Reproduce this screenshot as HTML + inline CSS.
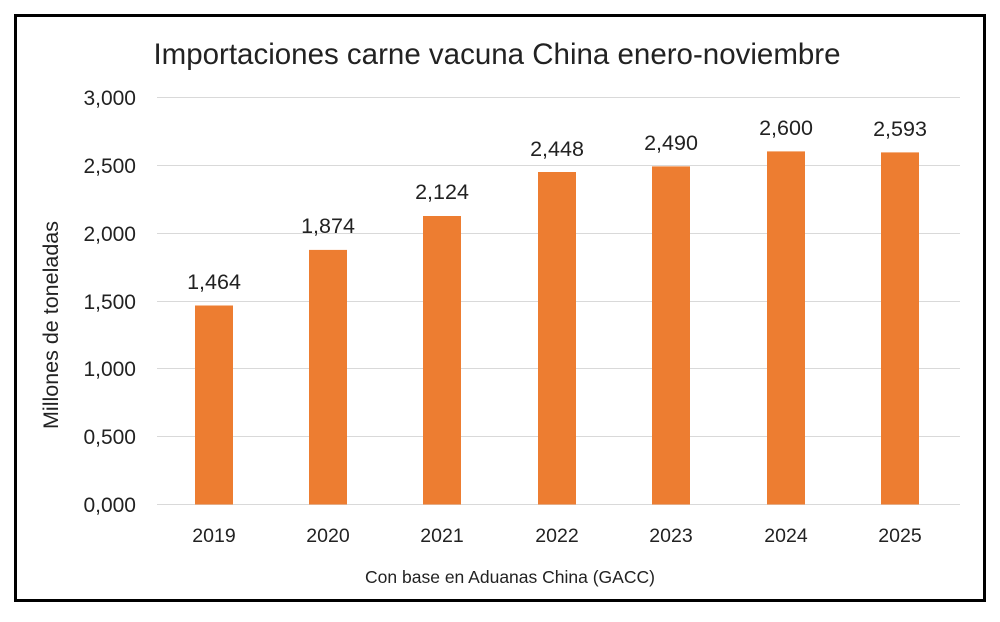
<!DOCTYPE html>
<html><head><meta charset="utf-8"><style>
body{margin:0;background:#fff}
</style></head><body>
<svg width="1000" height="617" xmlns="http://www.w3.org/2000/svg" font-family="'Liberation Sans', sans-serif">
<rect width="1000" height="617" fill="#fff"/>
<rect x="15.5" y="15.5" width="969" height="585" fill="none" stroke="#000" stroke-width="3"/>
<text x="497" y="64" font-size="29.5" text-anchor="middle" fill="#222">Importaciones carne vacuna China enero-noviembre</text>
<g stroke="#d9d9d9" stroke-width="1">
<line x1="157" x2="960" y1="97.5" y2="97.5"/>
<line x1="157" x2="960" y1="165.5" y2="165.5"/>
<line x1="157" x2="960" y1="233.5" y2="233.5"/>
<line x1="157" x2="960" y1="301.5" y2="301.5"/>
<line x1="157" x2="960" y1="368.5" y2="368.5"/>
<line x1="157" x2="960" y1="436.5" y2="436.5"/>
<line x1="157" x2="960" y1="504.5" y2="504.5"/>
</g>
<g font-size="21" text-anchor="end" fill="#222">
<text x="136" y="105">3,000</text>
<text x="136" y="173">2,500</text>
<text x="136" y="241">2,000</text>
<text x="136" y="309">1,500</text>
<text x="136" y="376">1,000</text>
<text x="136" y="444">0,500</text>
<text x="136" y="512">0,000</text>
</g>
<text transform="translate(58,325) rotate(-90)" font-size="21.5" text-anchor="middle" fill="#222">Millones de toneladas</text>
<g fill="#ED7D31">
<rect x="195" y="305.5" width="38" height="199"/>
<rect x="309" y="249.9" width="38" height="254.6"/>
<rect x="423" y="216" width="38" height="288.5"/>
<rect x="538" y="172" width="38" height="332.5"/>
<rect x="652" y="166.4" width="38" height="338.1"/>
<rect x="767" y="151.4" width="38" height="353.1"/>
<rect x="881" y="152.4" width="38" height="352.1"/>
</g>
<g font-size="21.5" text-anchor="middle" fill="#222">
<text x="214" y="289">1,464</text>
<text x="328" y="233">1,874</text>
<text x="442" y="199">2,124</text>
<text x="557" y="156">2,448</text>
<text x="671" y="150">2,490</text>
<text x="786" y="135">2,600</text>
<text x="900" y="136">2,593</text>
</g>
<g font-size="19.5" text-anchor="middle" fill="#222">
<text x="214" y="542">2019</text>
<text x="328" y="542">2020</text>
<text x="442" y="542">2021</text>
<text x="557" y="542">2022</text>
<text x="671" y="542">2023</text>
<text x="786" y="542">2024</text>
<text x="900" y="542">2025</text>
</g>
<text x="510" y="583" font-size="17.5" text-anchor="middle" fill="#222">Con base en Aduanas China (GACC)</text>
</svg>
</body></html>
